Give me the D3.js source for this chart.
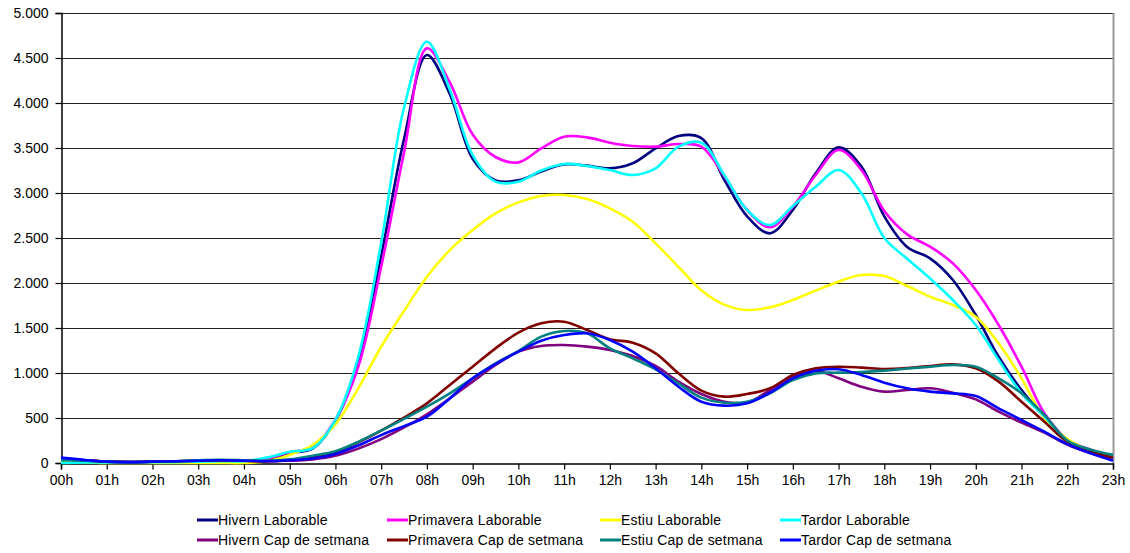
<!DOCTYPE html>
<html>
<head>
<meta charset="utf-8">
<script src="https://cdn.jsdelivr.net/npm/d3@7"></script>
<style>
  html, body { margin: 0; padding: 0; background: #fff; }
  svg { display: block; font-family: "Liberation Sans", Arial, sans-serif; }
</style>
</head>
<body>
<svg id="chart" width="1130" height="553"></svg>
<script>
// Hour tick labels
const hourLabels = ["00h","01h","02h","03h","04h","05h","06h","07h","08h","09h","10h","11h",
  "12h","13h","14h","15h","16h","17h","18h","19h","20h","21h","22h","23h"];
// Sample times (hours), half-hourly
const times = [0,0.5,1,1.5,2,2.5,3,3.5,4,4.5,5,5.5,6,6.5,7,7.5,8,8.5,9,9.5,10,10.5,11,11.5,
  12,12.5,13,13.5,14,14.5,15,15.5,16,16.5,17,17.5,18,18.5,19,19.5,20,20.5,21,21.5,22,22.5,23];
const yTicks = [0,500,1000,1500,2000,2500,3000,3500,4000,4500,5000];

const seriesNames = ["Hivern Laborable","Primavera Laborable","Estiu Laborable","Tardor Laborable",
  "Hivern Cap de setmana","Primavera Cap de setmana","Estiu Cap de setmana","Tardor Cap de setmana"];
const seriesColors = ["#000080","#FF00FF","#FFFF00","#00FFFF","#800080","#800000","#008080","#0000FF"];

const hivernLab = [55,30,15,10,12,15,25,30,25,40,110,160,470,1120,2300,3600,4533,4100,3380,3140,3140,3240,3318,3304,
  3274,3330,3496,3633,3610,3150,2740,2552,2811,3219,3507,3293,2740,2400,2274,2033,1644,1181,811,515,250,144,52];
const primaveraLab = [40,25,10,8,10,12,20,25,20,50,120,170,480,1070,2180,3450,4607,4230,3650,3400,3340,3496,3626,3618,
  3559,3522,3515,3544,3515,3190,2811,2619,2848,3200,3478,3256,2800,2540,2404,2218,1922,1533,1070,552,260,150,55];
const estiuLab = [20,10,0,0,0,0,0,0,0,20,90,200,430,830,1292,1690,2070,2366,2589,2774,2896,2967,2978,2933,
  2830,2681,2441,2180,1920,1760,1700,1730,1811,1915,2015,2089,2078,1967,1848,1755,1626,1330,941,496,270,140,60];
const tardorLab = [0,5,5,5,8,10,15,20,20,60,125,165,480,1180,2445,3950,4681,4150,3420,3126,3126,3250,3322,3300,
  3255,3200,3274,3515,3559,3200,2811,2644,2855,3070,3256,2996,2500,2270,2050,1811,1533,1144,774,515,250,144,50];
const hivernCap = [50,30,15,10,15,20,25,30,25,20,25,40,80,160,265,395,541,718,904,1089,1237,1300,1311,1293,
  1256,1189,1078,904,767,681,670,811,967,1026,941,848,793,811,830,781,707,570,448,337,205,110,35];
const primaveraCap = [40,30,15,10,15,20,25,30,25,20,35,70,120,230,360,505,663,867,1070,1274,1448,1552,1570,1478,
  1374,1337,1219,996,804,737,767,830,978,1052,1070,1060,1044,1055,1078,1096,1052,904,681,459,237,130,60];
const estiuCap = [30,25,15,10,15,20,30,35,30,25,40,80,130,235,360,490,626,774,941,1107,1244,1404,1467,1441,
  1274,1163,1041,885,726,670,681,774,922,996,1004,1010,1026,1050,1070,1089,1070,941,774,533,250,150,90];
const tardorCap = [60,35,15,10,15,20,25,30,25,20,30,50,100,195,310,410,515,718,941,1100,1237,1359,1422,1441,
  1367,1237,1052,848,681,637,663,781,941,1026,1041,978,893,830,793,774,744,607,478,348,210,110,25];

const seriesValues = [hivernLab, primaveraLab, estiuLab, tardorLab, hivernCap, primaveraCap, estiuCap, tardorCap];

const svg = d3.select("#chart");
const plotLeft = 61, plotRight = 1113, plotTop = 13, plotBottom = 463;

const x = d3.scaleLinear().domain([0, 23]).range([plotLeft, plotRight]);
const y = d3.scaleLinear().domain([0, 5000]).range([plotBottom, plotTop]);

const locale = d3.formatLocale({decimal: ",", thousands: ".", grouping: [3], currency: ["", ""]});
const fmt = locale.format(",d");

// Horizontal gridlines
svg.append("g")
  .selectAll("line")
  .data(yTicks.filter(d => d > 0))
  .join("line")
  .attr("x1", plotLeft).attr("x2", plotRight)
  .attr("y1", d => Math.round(y(d)) + 0.5).attr("y2", d => Math.round(y(d)) + 0.5)
  .attr("stroke", "#222").attr("stroke-width", 1.2);

// Right border
svg.append("line")
  .attr("x1", plotRight + 0.5).attr("x2", plotRight + 0.5)
  .attr("y1", plotTop).attr("y2", plotBottom)
  .attr("stroke", "#999").attr("stroke-width", 2);

// Y axis
const yAxis = svg.append("g")
  .attr("transform", `translate(${plotLeft + 0.5},0)`)
  .call(d3.axisLeft(y).tickValues(yTicks).tickFormat(fmt).tickSize(6).tickPadding(7));
yAxis.select(".domain").attr("stroke", "#000").attr("stroke-width", 1.5);
yAxis.selectAll(".tick line").attr("stroke", "#000").attr("stroke-width", 1.2);
yAxis.selectAll("text").attr("font-size", 14).attr("fill", "#000")
  .attr("font-family", "'Liberation Sans', Arial, sans-serif");

// X axis
const xAxis = svg.append("g")
  .attr("transform", `translate(0,${plotBottom + 0.5})`)
  .call(d3.axisBottom(x).tickValues(d3.range(hourLabels.length)).tickFormat(i => hourLabels[i]).tickSize(6).tickPadding(6));
xAxis.select(".domain").attr("stroke", "#000").attr("stroke-width", 1.5);
xAxis.selectAll(".tick line").attr("stroke", "#000").attr("stroke-width", 1.2);
xAxis.selectAll("text").attr("font-size", 14).attr("fill", "#000")
  .attr("font-family", "'Liberation Sans', Arial, sans-serif");

// Lines
const line = d3.line()
  .x((d, i) => x(times[i]))
  .y(d => y(d))
  .curve(d3.curveCatmullRom.alpha(0.5));

svg.append("g")
  .selectAll("path")
  .data(seriesValues)
  .join("path")
  .attr("d", d => line(d))
  .attr("fill", "none")
  .attr("stroke", (d, i) => seriesColors[i])
  .attr("stroke-width", 2.6)
  .attr("stroke-linejoin", "round");

// Legend
const legendX = [197, 387, 600, 780];
const legendY = [520, 540];
const legend = svg.append("g");
seriesNames.forEach((name, i) => {
  const col = i % 4, row = Math.floor(i / 4);
  const gx = legendX[col], gy = legendY[row];
  legend.append("line")
    .attr("x1", gx).attr("x2", gx + 21)
    .attr("y1", gy).attr("y2", gy)
    .attr("stroke", seriesColors[i]).attr("stroke-width", 3);
  legend.append("text")
    .attr("x", gx + 21).attr("y", gy)
    .attr("dy", "0.35em")
    .attr("font-size", 14)
    .attr("letter-spacing", "0.2")
    .attr("fill", "#000")
    .text(name);
});
</script>
</body>
</html>
